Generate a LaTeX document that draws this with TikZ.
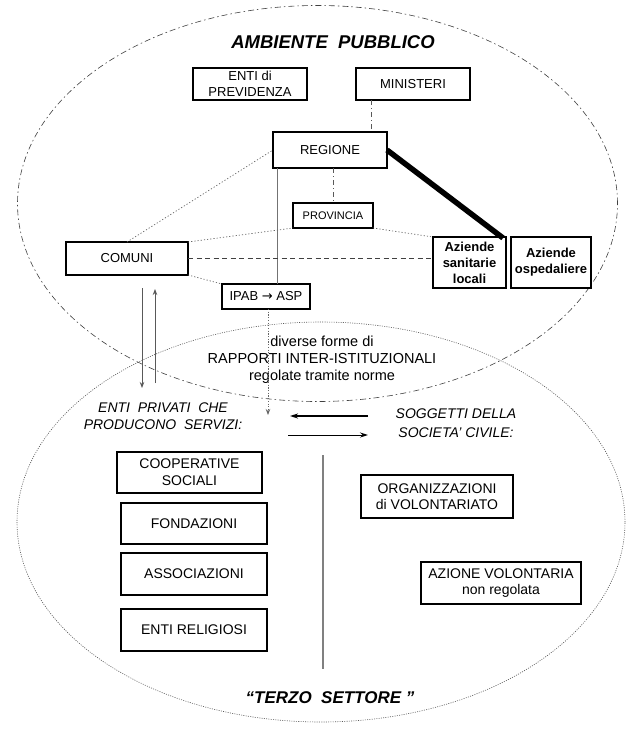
\documentclass[tikz,border=0pt]{standalone}
\usepackage{fontspec}
\setmainfont{Liberation Sans}
\newfontfamily\arrowfont{DejaVu Sans}
\usetikzlibrary{arrows.meta,calc}
\begin{document}
\begin{tikzpicture}[x=1pt,y=-1pt,
  box/.style={draw=black,line width=1.5pt,fill=white,inner sep=1pt,outer sep=0pt,align=center,font=\fontsize{13}{16}\selectfont},
  lowbox/.style={box,line width=1.8pt,font=\fontsize{14}{17}\selectfont},
  azbox/.style={box,font=\fontsize{13}{16}\selectfont\bfseries},
  lbl/.style={align=center,inner sep=0pt},
  topell/.style={draw=black!75,line width=0.6pt,dash pattern=on 6pt off 3pt on 1.5pt off 3pt},
  lowell/.style={draw=black!65,line width=0.6pt,dash pattern=on 1pt off 1.3pt},
  dashdotc/.style={draw=black!65,line width=0.7pt,dash pattern=on 5pt off 3pt on 1pt off 3pt},
  dotc/.style={draw=black!60,line width=0.7pt,dash pattern=on 1.2pt off 2pt},
  dashc/.style={draw=black!75,line width=0.8pt,dash pattern=on 5pt off 3.5pt},
  solidc/.style={draw=black!55,line width=0.8pt},
  thickc/.style={draw=black,line width=5.5pt},
  varrow/.style={draw=black!65,line width=0.9pt,-{Stealth[length=6pt,width=4.5pt]}},
  harrow/.style={draw=black,-{Stealth[length=8pt,width=5pt]}}
]
\useasboundingbox (0,0) rectangle (642,731);
\fill[white] (0,0) rectangle (642,731);

% ellipses
\draw[topell] (317.5,203.5) ellipse [x radius=300pt, y radius=198pt];
\draw[lowell] (321,522) ellipse [x radius=304pt, y radius=200pt];

% title texts
\node[lbl,font=\fontsize{18.5}{22}\selectfont\bfseries\itshape] (titletop) at (333,42) {AMBIENTE\ \ PUBBLICO};
\node[lbl,font=\fontsize{17}{20}\selectfont\bfseries\itshape] (titlelow) at (330,698) {“TERZO\ \ SETTORE ”};

% upper boxes
\node[box,minimum width=114pt,minimum height=32pt] (prev) at (250,84) {ENTI di\\PREVIDENZA};
\node[box,minimum width=114pt,minimum height=32pt] (min) at (413,84) {MINISTERI};
\node[box,minimum width=114pt,minimum height=36pt] (reg) at (330,150) {REGIONE};
\node[box,minimum width=80pt,minimum height=25pt,font=\fontsize{11}{13}\selectfont] (prov) at (333,215.5) {PROVINCIA};
\node[box,minimum width=122pt,minimum height=33pt] (com) at (127,258.5) {COMUNI};
\node[box,minimum width=88pt,minimum height=25pt] (ipab) at (266,296.5) {IPAB {\arrowfont →} ASP};
\node[azbox,minimum width=73pt,minimum height=51pt] (asl) at (469.5,262.5) {Aziende\\sanitarie\\locali};
\node[azbox,minimum width=80pt,minimum height=51pt] (aosp) at (551,262.5) {Aziende\\ospedaliere};

% connectors (upper)
\draw[dashdotc] ([xshift=-42pt]min.south) -- ([xshift=-42pt]min.south |- reg.north);
\draw[dashdotc] (prov.north |- reg.south) -- (prov.north);
\draw[solidc] ([xshift=4pt]reg.south west) -- ([xshift=4pt]reg.south west |- ipab.north);
\draw[dotc] (com.north) -- (reg.west);
\draw[dotc] (com.north east) -- (prov.south west);
\draw[dotc] (prov.south east) -- (asl.north west);
\draw[dashc] (com.east) -- (com.east -| asl.west);
\draw[dotc] (com.south east) -- (ipab.north west);
\draw[thickc] (reg.east) -- ([xshift=-3pt,yshift=-1pt]asl.north east);

% relations text
\node[lbl,font=\fontsize{14.5}{17}\selectfont] (rapp) at (322,360) {diverse forme di\\RAPPORTI INTER-ISTITUZIONALI\\regolate tramite norme};
\node[lbl,font=\fontsize{14}{17}\selectfont\itshape] (priv) at (163,416) {ENTI~ PRIVATI~ CHE\\PRODUCONO~ SERVIZI:};
\node[lbl,font=\fontsize{14}{19}\selectfont\itshape] (sogg) at (456,423) {SOGGETTI DELLA\\SOCIETA' CIVILE:};

% arrows
\coordinate (ipabend) at (268,415);
\draw[draw=black!60,line width=0.8pt,dash pattern=on 1.2pt off 1.5pt,-{Stealth[length=6pt,width=4.5pt]}] ([xshift=2pt]ipab.south) -- (ipabend);
\coordinate (dnA) at (142,288);
\coordinate (dnB) at (142,388);
\coordinate (upA) at (155,383);
\coordinate (upB) at (155,289);
\draw[varrow] (dnA) -- (dnB);
\draw[varrow] (upA) -- (upB);
\coordinate (lA) at (368,416);
\coordinate (lB) at (290,416);
\coordinate (rA) at (288,435);
\coordinate (rB) at (368,435);
\draw[harrow,line width=1.6pt] (lA) -- (lB);
\draw[harrow,line width=0.9pt] (rA) -- (rB);

% separator
\coordinate (sepA) at (323,455);
\coordinate (sepB) at (323,669);
\draw[draw=black!50,line width=1.3pt] (sepA) -- (sepB);

% lower boxes
\node[lowbox,minimum width=145pt,minimum height=41pt] (coop) at (189.5,472.5) {COOPERATIVE\\SOCIALI};
\node[lowbox,minimum width=146pt,minimum height=41pt] (fond) at (194,523.5) {FONDAZIONI};
\node[lowbox,minimum width=146pt,minimum height=42pt] (assoc) at (194,574) {ASSOCIAZIONI};
\node[lowbox,minimum width=146pt,minimum height=42pt] (relig) at (194,630) {ENTI RELIGIOSI};
\node[lowbox,minimum width=152pt,minimum height=43pt,font=\fontsize{14}{16}\selectfont] (org) at (437,496.5) {ORGANIZZAZIONI\\di VOLONTARIATO};
\node[lowbox,minimum width=160pt,minimum height=42pt,font=\fontsize{14}{16}\selectfont] (azv) at (501,583) {AZIONE VOLONTARIA\\non regolata};
\end{tikzpicture}
\end{document}
